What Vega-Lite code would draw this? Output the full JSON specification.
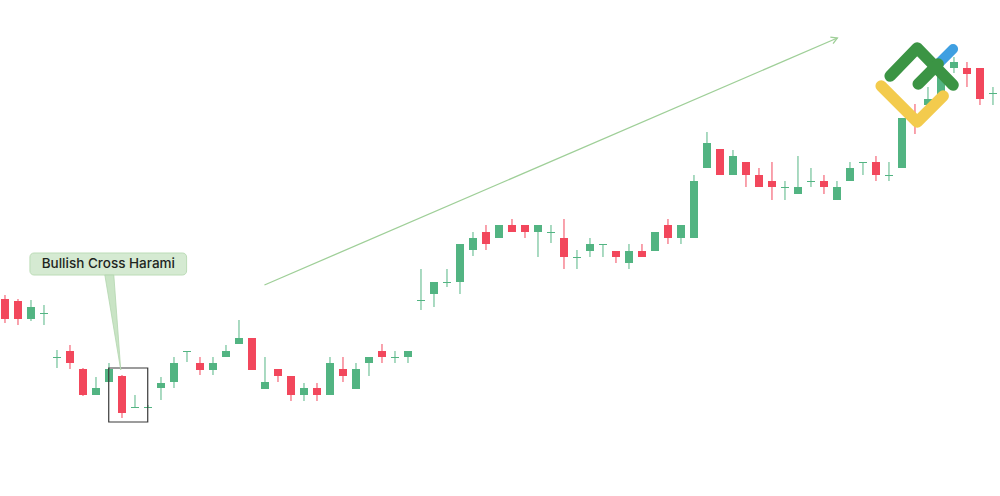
{
  "$schema": "https://vega.github.io/schema/vega-lite/v6.json",
  "width": 1000,
  "height": 496,
  "autosize": {"type": "fit", "contains": "padding"},
  "padding": 0,
  "background": "white",
  "config": {"view": {"stroke": null}},
  "datasets": {
    "candles": [
      {"i":0,"o":197,"c":177,"h":201,"l":173},
      {"i":1,"o":195,"c":177,"h":197,"l":171},
      {"i":2,"o":177,"c":189,"h":196,"l":175},
      {"i":3,"o":182,"c":183,"h":191,"l":171},
      {"i":4,"o":138,"c":139,"h":146,"l":128},
      {"i":5,"o":145,"c":133,"h":151,"l":127},
      {"i":6,"o":127,"c":101,"h":128,"l":100},
      {"i":7,"o":101,"c":108,"h":119,"l":101},
      {"i":8,"o":114,"c":127,"h":133,"l":114},
      {"i":9,"o":120,"c":83,"h":121,"l":78},
      {"i":10,"o":88,"c":89,"h":101,"l":88},
      {"i":11,"o":88,"c":89,"h":91,"l":88},
      {"i":12,"o":108,"c":113,"h":119,"l":96},
      {"i":13,"o":114,"c":133,"h":139,"l":108},
      {"i":14,"o":144,"c":145,"h":145,"l":134},
      {"i":15,"o":133,"c":126,"h":139,"l":121},
      {"i":16,"o":126,"c":133,"h":139,"l":121},
      {"i":17,"o":139,"c":145,"h":151,"l":139},
      {"i":18,"o":152,"c":158,"h":176,"l":152},
      {"i":19,"o":158,"c":126,"h":158,"l":126},
      {"i":20,"o":107,"c":114,"h":139,"l":107},
      {"i":21,"o":127,"c":120,"h":127,"l":114},
      {"i":22,"o":120,"c":101,"h":120,"l":95},
      {"i":23,"o":101,"c":108,"h":113,"l":95},
      {"i":24,"o":108,"c":101,"h":113,"l":95},
      {"i":25,"o":101,"c":133,"h":139,"l":101},
      {"i":26,"o":127,"c":120,"h":139,"l":114},
      {"i":27,"o":107,"c":127,"h":133,"l":107},
      {"i":28,"o":133,"c":139,"h":139,"l":120},
      {"i":29,"o":145,"c":139,"h":152,"l":133},
      {"i":30,"o":138,"c":139,"h":145,"l":133},
      {"i":31,"o":139,"c":145,"h":145,"l":133},
      {"i":32,"o":195,"c":196,"h":227,"l":186},
      {"i":33,"o":202,"c":214,"h":214,"l":189},
      {"i":34,"o":213,"c":214,"h":227,"l":209},
      {"i":35,"o":214,"c":252,"h":252,"l":202},
      {"i":36,"o":246,"c":258,"h":264,"l":240},
      {"i":37,"o":264,"c":252,"h":271,"l":246},
      {"i":38,"o":258,"c":271,"h":271,"l":258},
      {"i":39,"o":271,"c":264,"h":277,"l":264},
      {"i":40,"o":271,"c":264,"h":271,"l":258},
      {"i":41,"o":264,"c":271,"h":271,"l":239},
      {"i":42,"o":263,"c":264,"h":271,"l":253},
      {"i":43,"o":258,"c":239,"h":277,"l":227},
      {"i":44,"o":238,"c":239,"h":246,"l":227},
      {"i":45,"o":245,"c":252,"h":258,"l":239},
      {"i":46,"o":251,"c":252,"h":252,"l":239},
      {"i":47,"o":245,"c":239,"h":245,"l":233},
      {"i":48,"o":233,"c":245,"h":252,"l":227},
      {"i":49,"o":245,"c":239,"h":252,"l":239},
      {"i":50,"o":245,"c":264,"h":264,"l":245},
      {"i":51,"o":271,"c":258,"h":277,"l":252},
      {"i":52,"o":258,"c":271,"h":271,"l":252},
      {"i":53,"o":258,"c":315,"h":321,"l":258},
      {"i":54,"o":328,"c":353,"h":364,"l":328},
      {"i":55,"o":347,"c":321,"h":347,"l":321},
      {"i":56,"o":321,"c":340,"h":346,"l":321},
      {"i":57,"o":334,"c":321,"h":334,"l":309},
      {"i":58,"o":321,"c":309,"h":328,"l":309},
      {"i":59,"o":315,"c":309,"h":334,"l":296},
      {"i":60,"o":308,"c":309,"h":315,"l":296},
      {"i":61,"o":302,"c":309,"h":340,"l":302},
      {"i":62,"o":314,"c":315,"h":328,"l":309},
      {"i":63,"o":315,"c":309,"h":321,"l":302},
      {"i":64,"o":296,"c":309,"h":315,"l":296},
      {"i":65,"o":315,"c":328,"h":334,"l":315},
      {"i":66,"o":333,"c":334,"h":334,"l":321},
      {"i":67,"o":334,"c":321,"h":340,"l":315},
      {"i":68,"o":320,"c":321,"h":334,"l":315},
      {"i":69,"o":328,"c":378,"h":378,"l":328},
      {"i":70,"o":381,"c":373,"h":392,"l":362},
      {"i":71,"o":391,"c":397,"h":409,"l":389},
      {"i":72,"o":401,"c":420,"h":424,"l":399},
      {"i":73,"o":428,"c":434,"h":439,"l":423},
      {"i":74,"o":428,"c":422,"h":434,"l":409},
      {"i":75,"o":428,"c":397,"h":428,"l":391},
      {"i":76,"o":402,"c":403,"h":409,"l":391}
    ],
    "arrow": [
      {"seg":"shaft","ord":0,"x":19.96,"y":211},
      {"seg":"shaft","ord":1,"x":64.03,"y":458},
      {"seg":"head","ord":0,"x":63.49,"y":458.8},
      {"seg":"head","ord":1,"x":64.03,"y":458},
      {"seg":"head","ord":2,"x":63.70,"y":452.4}
    ],
    "box": [{"x":7.98,"x2":10.98,"y":128,"y2":74}],
    "callout": [{"x":1.92,"x2":13.97,"y":243,"y2":221,"label":"Bullish Cross Harami","tx":7.95,"ty":232}],
    "pointer": [
      {"y":221,"x":7.68,"x2":8.37},
      {"y":126,"x":8.905,"x2":8.905}
    ],
    "logo": [
      {"part":"blue","ord":0,"x":71.55,"y":429},
      {"part":"blue","ord":1,"x":72.93,"y":447},
      {"part":"green1","ord":0,"x":68.09,"y":420},
      {"part":"green1","ord":1,"x":70.17,"y":448},
      {"part":"green1","ord":2,"x":72.93,"y":411},
      {"part":"green2","ord":0,"x":70.25,"y":412},
      {"part":"green2","ord":1,"x":71.78,"y":432},
      {"part":"yellow","ord":0,"x":67.40,"y":410},
      {"part":"yellow","ord":1,"x":70.17,"y":374},
      {"part":"yellow","ord":2,"x":72.17,"y":400}
    ]
  },
  "layer": [
    {
      "data": {"name": "candles"},
      "mark": {"type": "rule", "strokeWidth": 1},
      "encoding": {
        "x": {"field": "i", "type": "quantitative", "scale": {"domain": [-0.23, 76.54], "nice": false, "zero": false, "padding": 0}, "axis": null},
        "y": {"field": "l", "type": "quantitative", "scale": {"domain": [0, 496], "nice": false, "zero": false, "padding": 0}, "axis": null},
        "y2": {"field": "h"},
        "color": {"condition": {"test": "datum.c >= datum.o", "value": "#55b584"}, "value": "#f2475c"}
      }
    },
    {
      "data": {"name": "candles"},
      "mark": {"type": "bar", "size": 8},
      "encoding": {
        "x": {"field": "i", "type": "quantitative"},
        "y": {"field": "o", "type": "quantitative"},
        "y2": {"field": "c"},
        "color": {"condition": {"test": "datum.c >= datum.o", "value": "#52b482"}, "value": "#f2475c"}
      }
    },
    {
      "data": {"name": "arrow"},
      "mark": {"type": "line", "stroke": "#9fcf98", "strokeWidth": 1.3},
      "encoding": {
        "x": {"field": "x", "type": "quantitative"},
        "y": {"field": "y", "type": "quantitative"},
        "detail": {"field": "seg"},
        "order": {"field": "ord"}
      }
    },
    {
      "data": {"name": "box"},
      "mark": {"type": "rect", "fill": null, "fillOpacity": 0, "stroke": "#3a3a3a", "strokeWidth": 1.2},
      "encoding": {
        "x": {"field": "x", "type": "quantitative"},
        "x2": {"field": "x2"},
        "y": {"field": "y", "type": "quantitative"},
        "y2": {"field": "y2"}
      }
    },
    {
      "data": {"name": "callout"},
      "mark": {"type": "rect", "fill": "#d5ead2", "stroke": "#bcdcb7", "strokeWidth": 1, "cornerRadius": 4},
      "encoding": {
        "x": {"field": "x", "type": "quantitative"},
        "x2": {"field": "x2"},
        "y": {"field": "y", "type": "quantitative"},
        "y2": {"field": "y2"}
      }
    },
    {
      "data": {"name": "pointer"},
      "mark": {"type": "area", "orient": "horizontal", "fill": "#c9e4c5", "stroke": "#b3d6ae", "strokeWidth": 0.8},
      "encoding": {
        "y": {"field": "y", "type": "quantitative"},
        "x": {"field": "x", "type": "quantitative"},
        "x2": {"field": "x2"}
      }
    },
    {
      "data": {"name": "callout"},
      "mark": {"type": "text", "font": "Inter", "fontSize": 13.5, "fontWeight": 500, "color": "#1e261e", "align": "center", "baseline": "middle"},
      "encoding": {
        "x": {"field": "tx", "type": "quantitative"},
        "y": {"field": "ty", "type": "quantitative"},
        "text": {"field": "label"}
      }
    },
    {
      "data": {"name": "logo"},
      "transform": [{"filter": "datum.part == 'blue'"}],
      "mark": {"type": "line", "stroke": "#3f9fe1", "strokeWidth": 10, "strokeCap": "round", "strokeJoin": "round"},
      "encoding": {
        "x": {"field": "x", "type": "quantitative"},
        "y": {"field": "y", "type": "quantitative"},
        "detail": {"field": "part"},
        "order": {"field": "ord"}
      }
    },
    {
      "data": {"name": "logo"},
      "transform": [{"filter": "datum.part == 'green1' || datum.part == 'green2'"}],
      "mark": {"type": "line", "stroke": "#3b9444", "strokeWidth": 11.5, "strokeCap": "round", "strokeJoin": "round"},
      "encoding": {
        "x": {"field": "x", "type": "quantitative"},
        "y": {"field": "y", "type": "quantitative"},
        "detail": {"field": "part"},
        "order": {"field": "ord"}
      }
    },
    {
      "data": {"name": "logo"},
      "transform": [{"filter": "datum.part == 'yellow'"}],
      "mark": {"type": "line", "stroke": "#f3cb4d", "strokeWidth": 11.5, "strokeCap": "round", "strokeJoin": "round"},
      "encoding": {
        "x": {"field": "x", "type": "quantitative"},
        "y": {"field": "y", "type": "quantitative"},
        "detail": {"field": "part"},
        "order": {"field": "ord"}
      }
    }
  ]
}
